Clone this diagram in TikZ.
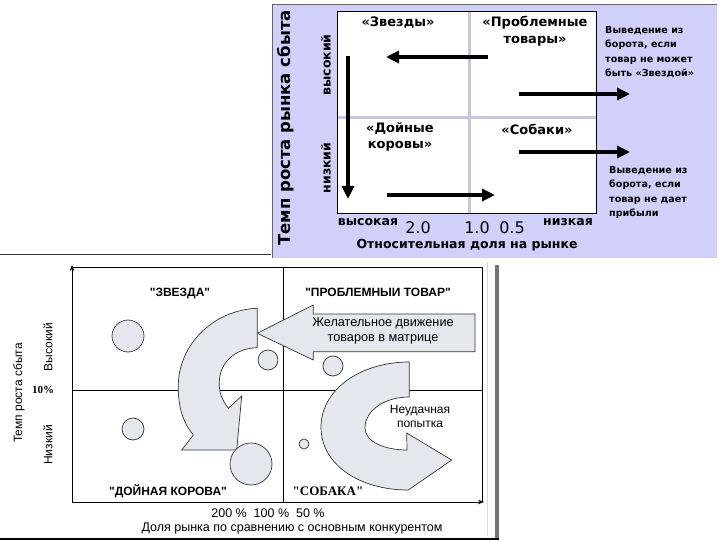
\documentclass[tikz,border=0pt]{standalone}
\usepackage{fontspec}
\setmainfont{DejaVu Sans}
\newfontfamily\ars{Liberation Sans}
\newfontfamily\tms{Liberation Serif}
\usetikzlibrary{arrows.meta}
\definecolor{lav}{RGB}{208,208,250}
\definecolor{gridl}{RGB}{198,198,228}
\definecolor{shp}{RGB}{228,232,238}
\newcommand{\fs}[2]{\fontsize{#1}{#2}\selectfont}
\tikzset{
  bigarrow/.style={line width=3.5pt,-{Triangle[length=13pt,width=12pt]}},
  toplbl/.style={font=\bfseries\fs{13}{16.5}, align=center, inner sep=0pt},
  sidetxt/.style={font=\bfseries\fs{9.6}{14.5}, align=left, anchor=north west, inner sep=0pt},
  axlbl/.style={font=\bfseries\fs{12.5}{14}, inner sep=0pt},
  numlbl/.style={font=\fs{16}{18}, inner sep=0pt},
  qlbl/.style={font=\ars\bfseries\fs{12}{14}, inner sep=0pt},
  reglbl/.style={font=\ars\fs{12}{14}, align=center, inner sep=0pt},
  shp/.style={draw=black!80, fill=shp, line width=0.7pt},
  dot/.style={circle, draw=black!80, fill=shp, line width=0.7pt, inner sep=0pt},
  thinl/.style={line width=0.8pt}
}
\begin{document}
\begin{tikzpicture}[x=1pt,y=-1pt]
\useasboundingbox (0,0) rectangle (720,540);
% ===== top panel =====
\fill[lav] (272,4) rectangle (717,258);
\draw[black!60, line width=0.8pt] (272,258) -- (272,4) -- (717,4);
\fill[white] (337,11) rectangle (596,213);
\draw[gridl, line width=3pt] (469,11) -- (469,213);
\draw[gridl, line width=3pt] (337,118) -- (596,118);
\draw[black, line width=0.9pt] (337,11) rectangle (596,213);

\node[toplbl] (zv) at (398,23) {«Звезды»};
\node[toplbl] (pt) at (535,31) {«Проблемные\\товары»};
\node[toplbl] (dk) at (400,137) {«Дойные\\коровы»};
\node[toplbl] (sb) at (537,129) {«Собаки»};

\node[sidetxt] (t1) at (605,26) {Выведение из\\борота, если\\товар не может\\быть «Звездой»};
\node[sidetxt] (t2) at (609,166) {Выведение из\\борота, если\\товар не дает\\прибыли};

\coordinate (a1s) at (488,57); \coordinate (a1e) at (386,57);
\coordinate (a2s) at (519,94); \coordinate (a2e) at (630,94);
\coordinate (a3s) at (519,152); \coordinate (a3e) at (630,152);
\coordinate (a4s) at (348,56); \coordinate (a4e) at (348,199);
\coordinate (a5s) at (387,195); \coordinate (a5e) at (495,195);
\draw[bigarrow] (a1s) -- (a1e);
\draw[bigarrow] (a2s) -- (a2e);
\draw[bigarrow] (a3s) -- (a3e);
\draw[bigarrow] (a4s) -- (a4e);
\draw[bigarrow] (a5s) -- (a5e);

\node[axlbl, rotate=90] (vys) at (326,65) {высокий};
\node[axlbl, rotate=90] (niz) at (326,168) {низкий};
\node[font=\bfseries\fs{16.5}{18}, rotate=90, inner sep=0pt] (temp) at (286,128) {Темп роста рынка сбыта};
\node[axlbl] (hi) at (368,222) {высокая};
\node[axlbl] (lo) at (568,222) {низкая};
\node[numlbl] (n2) at (418,228) {2.0};
\node[numlbl] (n1) at (477,228) {1.0};
\node[numlbl] (n05) at (512,228) {0.5};
\node[font=\bfseries\fs{12.5}{14}, inner sep=0pt] (otn) at (467,245) {Относительная доля на рынке};

% ===== bottom panel =====
\draw[black!80, line width=0.8pt] (0,254) -- (271,254);
\fill[black!55] (495,265) rectangle (499,539);
\draw[black, line width=1.2pt] (0,539) -- (499,539);
\draw[black!15, line width=0.6pt] (487,262) -- (487,536);

\coordinate (o) at (72,502);
\coordinate (yt) at (72,265);
\coordinate (xt) at (484,502);
\draw[thinl] (72,267) -- (482,267) -- (482,502);
\draw[thinl, -{Stealth[length=6pt,width=4.5pt]}] (o) -- (yt);
\draw[thinl, -{Stealth[length=6pt,width=4.5pt]}] (o) -- (xt);
\draw[thinl] (283,267) -- (283,502);
\draw[thinl] (72,390) -- (482,390);

\node[qlbl] (q1) at (180,294) {"ЗВЕЗДА"};
\node[qlbl] (q2) at (378,292) {"ПРОБЛЕМНЫИ ТОВАР"};
\node[qlbl] (q3) at (168,491) {"ДОЙНАЯ КОРОВА"};
\node[font=\tms\bfseries\fs{13}{15}, inner sep=0pt] (q4) at (328,491) {"СОБАКА"};

% straight arrow
\draw[shp] (257.3,333.3) -- (313.3,305) -- (313.3,314) -- (475,314) -- (475,351.7)
   -- (313.3,351.7) -- (313.3,360) -- cycle;
\node[reglbl, font=\ars\fs{12.7}{14.5}] (want) at (383,331) {Желательное движение\\товаров в матрице};

% curved arrow 1
\draw[shp] (257.3,308.3) .. controls (213,310) and (178,345) .. (178.3,386.7)
   .. controls (178,410) and (185,425) .. (193.3,435) -- (181.7,450) -- (236.7,450)
   -- (241.7,396) -- (228.3,408.3)
   .. controls (222,400) and (219,392) .. (219.3,383.3)
   .. controls (219,362) and (236,348) .. (257.3,347.7) -- cycle;

% curved arrow 2
\draw[shp] (409.3,362) .. controls (360,362) and (321,390) .. (321,427)
   .. controls (321,465) and (360,490) .. (408.3,490) -- (451.7,460) -- (406.7,433)
   -- (407,450) .. controls (385,450) and (365,442) .. (365,428)
   .. controls (365,410) and (385,397) .. (409.3,397) -- cycle;
\node[reglbl] (fail) at (420,416.5) {Неудачная\\попытка};

% circles
\node[dot, minimum size=32pt] (c1) at (128,336) {};
\node[dot, minimum size=20pt] (c2) at (268,360) {};
\node[dot, minimum size=20pt] (c3) at (333,366) {};
\node[dot, minimum size=22pt] (c4) at (133,429) {};
\node[dot, minimum size=10pt] (c5) at (304,444) {};
\node[dot, minimum size=42pt] (c6) at (251,464) {};

\node[font=\tms\bfseries\fs{11}{13}, inner sep=0pt] (ten) at (43,390) {10\%};
\node[reglbl, rotate=90] (vy) at (48,347) {Высокий};
\node[reglbl, rotate=90] (ni) at (48,445) {Низкий};
\node[reglbl, rotate=90] (ts) at (19,393) {Темп роста сбыта};
\node[reglbl, font=\ars\fs{12.5}{14}] (pc) at (268,513) {200 \%\ \ 100 \%\ \ 50 \%};
\node[reglbl, font=\ars\fs{12.5}{14}] (dl) at (292,528) {Доля рынка по сравнению с основным конкурентом};
\end{tikzpicture}
\end{document}
